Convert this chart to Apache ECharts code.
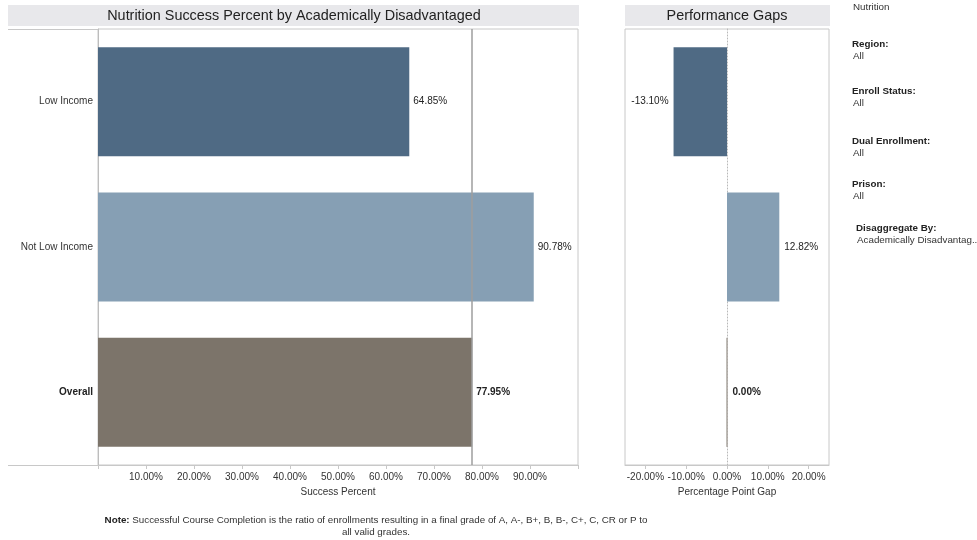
<!DOCTYPE html>
<html>
<head>
<meta charset="utf-8">
<script src="https://cdn.jsdelivr.net/npm/echarts@6/dist/echarts.min.js"></script>
<style>
  html, body { margin: 0; padding: 0; background: #fff; }
  #main { width: 977px; height: 540px; }
</style>
</head>
<body>
<div id="main"></div>
<script>
// data
var categories = ['Low Income', 'Not Low Income', 'Overall'];
var successPct = [64.85, 90.78, 77.95];
var gapPct = [-13.10, 12.82, 0.00];
var barColors = ['#4f6a84', '#869fb4', '#7c746a'];
var gapTicks = [-20, -10, 0, 10, 20];
var filters = [
  ['', 'Nutrition'],
  ['Region:', 'All'],
  ['Enroll Status:', 'All'],
  ['Dual Enrollment:', 'All'],
  ['Prison:', 'All'],
  ['Disaggregate By:', 'Academically Disadvantag..']
];

var FONT = '"Liberation Sans", Arial, sans-serif';
var TXT = '#333';

function pct(v) { return v.toFixed(2) + '%'; }

function barItems(vals, gap) {
  return vals.map(function (v, i) {
    var isOverall = categories[i] === 'Overall';
    var item = {
      value: v,
      itemStyle: { color: barColors[i] },
      label: {
        position: v < 0 ? 'left' : 'right',
        fontWeight: isOverall ? 'bold' : 'normal'
      }
    };
    if (gap && v === 0) {
      item.itemStyle.borderColor = '#a9a49e';
      item.itemStyle.borderWidth = 1;
    }
    return item;
  });
}

var chart = echarts.init(document.getElementById('main'));

// filter panel text
var filterGraphics = [];
var fy = [8, 45, 92, 142, 185, 229];
filters.forEach(function (f, i) {
  var x = i === 5 ? 856 : 852;
  if (f[0]) {
    filterGraphics.push({ type: 'text', left: x, top: fy[i] - 6,
      style: { text: f[0], font: 'bold 9.8px ' + FONT, fill: '#222' } });
  }
  filterGraphics.push({ type: 'text', left: x + 1, top: f[0] ? fy[i] + 6 : fy[i] - 6,
    style: { text: f[1], font: '9.8px ' + FONT, fill: TXT } });
});

var option = {
  animation: false,
  textStyle: { fontFamily: FONT },
  grid: [
    { left: 98, right: 399, top: 29, bottom: 75, show: true, borderColor: '#c8c8c8', borderWidth: 1 },
    { left: 625, right: 148, top: 29, bottom: 75, show: true, borderColor: '#c8c8c8', borderWidth: 1 }
  ],
  xAxis: [
    {
      gridIndex: 0, type: 'value', min: 0, max: 100, interval: 10,
      name: 'Success Percent', nameLocation: 'middle', nameGap: 22,
      nameTextStyle: { fontSize: 10, color: TXT },
      axisLine: { show: true, lineStyle: { color: '#c8c8c8' } },
      axisTick: { show: true, length: 4, lineStyle: { color: '#c8c8c8' } },
      axisLabel: {
        fontSize: 10, color: TXT, margin: 7,
        formatter: function (v) { return (v === 0 || v === 100) ? '' : pct(v); }
      },
      splitLine: { show: false }
    },
    {
      gridIndex: 1, type: 'value', min: -25, max: 25,
      name: 'Percentage Point Gap', nameLocation: 'middle', nameGap: 22,
      nameTextStyle: { fontSize: 10, color: TXT },
      axisLine: { show: true, onZero: false, lineStyle: { color: '#c8c8c8' } },
      axisTick: { show: true, length: 4, customValues: gapTicks, lineStyle: { color: '#c8c8c8' } },
      axisLabel: { fontSize: 10, color: TXT, margin: 7, customValues: gapTicks, formatter: pct },
      splitLine: { show: false }
    }
  ],
  yAxis: [
    {
      gridIndex: 0, type: 'category', data: categories, inverse: true,
      axisLine: { show: true, lineStyle: { color: '#bdbdbd' } },
      axisTick: { show: false },
      axisLabel: {
        fontSize: 10, color: TXT, margin: 5,
        formatter: function (v) { return v === 'Overall' ? '{b|' + v + '}' : v; },
        rich: { b: { fontSize: 10, fontWeight: 'bold', color: '#222' } }
      }
    },
    {
      gridIndex: 1, type: 'category', data: categories, inverse: true,
      axisLine: { show: true, onZero: true, lineStyle: { color: '#b8b8b8', type: [1, 2] } },
      axisTick: { show: false },
      axisLabel: { show: false }
    }
  ],
  series: [
    {
      type: 'bar', xAxisIndex: 0, yAxisIndex: 0, barWidth: '75%',
      data: barItems(successPct, false),
      label: { show: true, fontSize: 10, color: '#222', distance: 4, formatter: function (p) { return pct(p.value); } },
      markLine: {
        silent: true, symbol: 'none', label: { show: false },
        lineStyle: { color: '#9e9e9e', width: 1.5, type: 'solid' },
        data: [{ xAxis: successPct[categories.indexOf('Overall')] }]
      }
    },
    {
      type: 'bar', xAxisIndex: 1, yAxisIndex: 1, barWidth: '75%',
      data: barItems(gapPct, true),
      label: { show: true, fontSize: 10, color: '#222', distance: 5, formatter: function (p) { return pct(p.value); } }
    }
  ],
  graphic: [
    // panel title bars
    { type: 'rect', shape: { x: 8, y: 5, width: 571, height: 21 }, style: { fill: '#e8e8eb' }, silent: true },
    { type: 'text', x: 294, y: 16, style: { text: 'Nutrition Success Percent by Academically Disadvantaged',
      font: '14.4px ' + FONT, fill: '#222', align: 'center', verticalAlign: 'middle' } },
    { type: 'rect', shape: { x: 625, y: 5, width: 205, height: 21 }, style: { fill: '#e8e8eb' }, silent: true },
    { type: 'text', x: 727, y: 16, style: { text: 'Performance Gaps',
      font: '14.4px ' + FONT, fill: '#222', align: 'center', verticalAlign: 'middle' } },
    // frame extension over row labels
    { type: 'line', shape: { x1: 8, y1: 29.5, x2: 98, y2: 29.5 }, style: { stroke: '#c8c8c8', lineWidth: 1 } },
    { type: 'line', shape: { x1: 8, y1: 465.5, x2: 98, y2: 465.5 }, style: { stroke: '#c8c8c8', lineWidth: 1 } },
    // note
    { type: 'text', x: 376, y: 520, style: {
      text: '{b|Note:} Successful Course Completion is the ratio of enrollments resulting in a final grade of A, A-, B+, B, B-, C+, C, CR or P to',
      rich: { b: { font: 'bold 9.8px ' + FONT, fill: '#222' } },
      font: '9.8px ' + FONT, fill: TXT, align: 'center', verticalAlign: 'middle' } },
    { type: 'text', x: 376, y: 532, style: { text: 'all valid grades.',
      font: '9.8px ' + FONT, fill: TXT, align: 'center', verticalAlign: 'middle' } }
  ].concat(filterGraphics)
};

chart.setOption(option);
</script>
</body>
</html>
